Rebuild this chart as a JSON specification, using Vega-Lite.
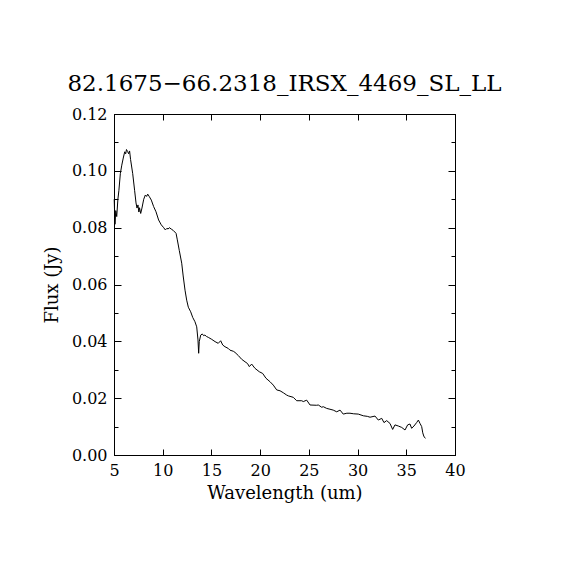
{
  "$schema": "https://vega.github.io/schema/vega-lite/v6.json",
  "description": "IRS spectrum, flux vs wavelength",
  "autosize": {"type": "none"},
  "padding": {"left": 114, "top": 114, "right": 115, "bottom": 115},
  "width": 341,
  "height": 341,
  "background": "white",
  "config": {
    "view": {"stroke": "black", "strokeWidth": 1},
    "axis": {
      "grid": false,
      "domainColor": "black",
      "tickColor": "black",
      "labelColor": "black",
      "titleColor": "black",
      "labelFont": "DejaVu Serif",
      "titleFont": "DejaVu Serif",
      "labelFontSize": 16,
      "titleFontSize": 18,
      "titleFontWeight": "normal"
    }
  },
  "title": {
    "text": "82.1675−66.2318_IRSX_4469_SL_LL",
    "font": "DejaVu Serif",
    "fontSize": 23,
    "fontWeight": "normal",
    "color": "black",
    "anchor": "middle",
    "baseline": "alphabetic",
    "offset": -8
  },
  "data": {
    "values": [
      {"w": 5.02, "f": 0.0900}, {"w": 5.10, "f": 0.0812}, {"w": 5.18, "f": 0.0860},
      {"w": 5.28, "f": 0.0839}, {"w": 5.40, "f": 0.0900}, {"w": 5.50, "f": 0.0930},
      {"w": 5.65, "f": 0.0990}, {"w": 5.80, "f": 0.1020}, {"w": 5.95, "f": 0.1045},
      {"w": 6.10, "f": 0.1067}, {"w": 6.20, "f": 0.1060}, {"w": 6.28, "f": 0.1075},
      {"w": 6.40, "f": 0.1068}, {"w": 6.50, "f": 0.1060}, {"w": 6.60, "f": 0.1070},
      {"w": 6.70, "f": 0.1040}, {"w": 6.92, "f": 0.0990}, {"w": 7.12, "f": 0.0930},
      {"w": 7.26, "f": 0.0887}, {"w": 7.36, "f": 0.0869}, {"w": 7.46, "f": 0.0880},
      {"w": 7.55, "f": 0.0855}, {"w": 7.62, "f": 0.0870}, {"w": 7.74, "f": 0.0850},
      {"w": 7.87, "f": 0.0869}, {"w": 8.05, "f": 0.0900}, {"w": 8.22, "f": 0.0915},
      {"w": 8.35, "f": 0.0910}, {"w": 8.46, "f": 0.0918}, {"w": 8.63, "f": 0.0909},
      {"w": 8.83, "f": 0.0897}, {"w": 9.07, "f": 0.0874}, {"w": 9.31, "f": 0.0856},
      {"w": 9.58, "f": 0.0827}, {"w": 9.85, "f": 0.0810}, {"w": 10.10, "f": 0.0800},
      {"w": 10.27, "f": 0.0792}, {"w": 10.44, "f": 0.0798}, {"w": 10.55, "f": 0.0795},
      {"w": 10.68, "f": 0.0800}, {"w": 10.88, "f": 0.0795}, {"w": 11.09, "f": 0.0790},
      {"w": 11.37, "f": 0.0780}, {"w": 11.50, "f": 0.0757}, {"w": 11.70, "f": 0.0720},
      {"w": 11.95, "f": 0.0675}, {"w": 12.10, "f": 0.0630}, {"w": 12.29, "f": 0.0580},
      {"w": 12.46, "f": 0.0545}, {"w": 12.63, "f": 0.0520}, {"w": 12.87, "f": 0.0504},
      {"w": 13.08, "f": 0.0484}, {"w": 13.31, "f": 0.0469}, {"w": 13.49, "f": 0.0451},
      {"w": 13.62, "f": 0.0405}, {"w": 13.69, "f": 0.0358}, {"w": 13.75, "f": 0.0399},
      {"w": 13.90, "f": 0.0422}, {"w": 14.06, "f": 0.0426}, {"w": 14.20, "f": 0.0420},
      {"w": 14.33, "f": 0.0422}, {"w": 14.50, "f": 0.0417}, {"w": 14.68, "f": 0.0414},
      {"w": 15.03, "f": 0.0407}, {"w": 15.37, "f": 0.0399}, {"w": 15.70, "f": 0.0393},
      {"w": 15.95, "f": 0.0402}, {"w": 16.16, "f": 0.0387}, {"w": 16.39, "f": 0.0381},
      {"w": 16.73, "f": 0.0375}, {"w": 16.90, "f": 0.0369}, {"w": 17.25, "f": 0.0365},
      {"w": 17.42, "f": 0.0361}, {"w": 17.76, "f": 0.0350}, {"w": 18.10, "f": 0.0337},
      {"w": 18.45, "f": 0.0328}, {"w": 18.70, "f": 0.0322}, {"w": 18.89, "f": 0.0311},
      {"w": 19.13, "f": 0.0320}, {"w": 19.47, "f": 0.0305}, {"w": 19.91, "f": 0.0293},
      {"w": 20.26, "f": 0.0287}, {"w": 20.60, "f": 0.0270}, {"w": 21.01, "f": 0.0258},
      {"w": 21.35, "f": 0.0246}, {"w": 21.70, "f": 0.0229}, {"w": 22.04, "f": 0.0226},
      {"w": 22.38, "f": 0.0219}, {"w": 22.72, "f": 0.0211}, {"w": 22.90, "f": 0.0208},
      {"w": 23.40, "f": 0.0203}, {"w": 23.75, "f": 0.0191}, {"w": 24.27, "f": 0.0191},
      {"w": 24.43, "f": 0.0188}, {"w": 24.78, "f": 0.0193}, {"w": 25.12, "f": 0.0176},
      {"w": 25.80, "f": 0.0175}, {"w": 25.97, "f": 0.0176}, {"w": 26.32, "f": 0.0168},
      {"w": 26.48, "f": 0.0170}, {"w": 26.83, "f": 0.0164}, {"w": 27.17, "f": 0.0161},
      {"w": 27.50, "f": 0.0158}, {"w": 27.86, "f": 0.0152}, {"w": 28.20, "f": 0.0158},
      {"w": 28.53, "f": 0.0144}, {"w": 28.90, "f": 0.0147}, {"w": 29.22, "f": 0.0147},
      {"w": 29.60, "f": 0.0145}, {"w": 30.07, "f": 0.0144}, {"w": 30.59, "f": 0.0138},
      {"w": 31.00, "f": 0.0136}, {"w": 31.28, "f": 0.0133}, {"w": 31.79, "f": 0.0137},
      {"w": 32.13, "f": 0.0123}, {"w": 32.48, "f": 0.0129}, {"w": 32.71, "f": 0.0114},
      {"w": 32.99, "f": 0.0121}, {"w": 33.33, "f": 0.0111}, {"w": 33.60, "f": 0.0090},
      {"w": 33.84, "f": 0.0106}, {"w": 34.18, "f": 0.0102}, {"w": 34.53, "f": 0.0097},
      {"w": 34.87, "f": 0.0088}, {"w": 35.14, "f": 0.0106}, {"w": 35.38, "f": 0.0109},
      {"w": 35.55, "f": 0.0094}, {"w": 35.79, "f": 0.0102}, {"w": 36.06, "f": 0.0114},
      {"w": 36.24, "f": 0.0123}, {"w": 36.41, "f": 0.0111}, {"w": 36.58, "f": 0.0100},
      {"w": 36.69, "f": 0.0078}, {"w": 36.82, "f": 0.0064}, {"w": 36.98, "f": 0.0059}
    ]
  },
  "layer": [
    {
      "mark": {"type": "line", "color": "black", "strokeWidth": 1},
      "encoding": {
        "x": {
          "field": "w",
          "type": "quantitative",
          "scale": {"domain": [5, 40], "nice": false, "zero": false},
          "axis": {
            "orient": "bottom",
            "values": [5, 10, 15, 20, 25, 30, 35, 40],
            "tickSize": -6,
            "labelPadding": 13,
            "labelFlush": false,
            "title": "Wavelength (um)",
            "titlePadding": 6
          }
        },
        "y": {
          "field": "f",
          "type": "quantitative",
          "scale": {"domain": [0, 0.12], "nice": false},
          "axis": {
            "orient": "left",
            "values": [0, 0.01, 0.02, 0.03, 0.04, 0.05, 0.06, 0.07, 0.08, 0.09, 0.10, 0.11, 0.12],
            "labelExpr": "round(datum.value * 100) % 2 == 0 ? format(datum.value, '.2f') : ''",
            "tickSize": {"condition": {"test": "round(datum.value * 100) % 2 == 1", "value": -4}, "value": -7},
            "labelPadding": 14,
            "labelFlush": false,
            "title": "Flux (Jy)",
            "titlePadding": 10
          }
        }
      }
    },
    {
      "mark": {"type": "line", "strokeOpacity": 0},
      "encoding": {
        "x": {
          "field": "w",
          "type": "quantitative",
          "axis": {
            "orient": "top",
            "values": [5, 10, 15, 20, 25, 30, 35, 40],
            "tickSize": -6,
            "labels": false,
            "title": null
          }
        },
        "y": {
          "field": "f",
          "type": "quantitative",
          "axis": {
            "orient": "right",
            "values": [0, 0.01, 0.02, 0.03, 0.04, 0.05, 0.06, 0.07, 0.08, 0.09, 0.10, 0.11, 0.12],
            "tickSize": {"condition": {"test": "round(datum.value * 100) % 2 == 1", "value": -4}, "value": -7},
            "labels": false,
            "title": null
          }
        }
      }
    }
  ],
  "resolve": {"axis": {"x": "independent", "y": "independent"}}
}
